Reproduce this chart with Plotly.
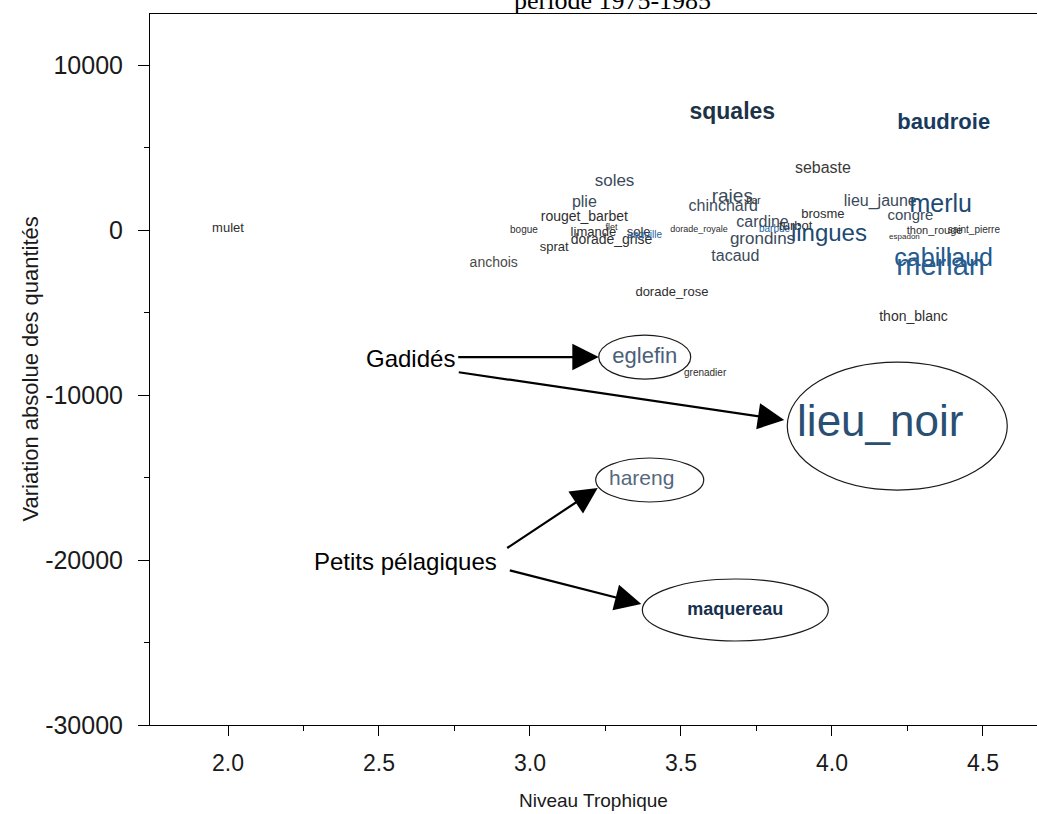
import plotly.graph_objects as go

# ---------------- data ----------------
species = ["mulet", "anchois", "bogue", "sprat", "rouget_barbet", "plie", "soles",
           "limande", "flet", "sole", "dorade_grise", "anguille", "dorade_royale",
           "raies", "bar", "chinchard", "cardine", "barbue", "turbot", "grondins",
           "tacaud", "brosme", "lingues", "sebaste", "squales", "baudroie",
           "lieu_jaune", "merlu", "congre", "thon_rouge", "espadon", "saint_pierre",
           "cabillaud", "merlan", "thon_blanc", "dorade_rose", "grenadier",
           "eglefin", "lieu_noir", "hareng", "maquereau"]
trophic_level = [2.00, 2.88, 2.98, 3.08, 3.18, 3.18, 3.28,
                 3.21, 3.27, 3.36, 3.27, 3.38, 3.56,
                 3.67, 3.74, 3.64, 3.77, 3.81, 3.88, 3.77,
                 3.68, 3.97, 3.99, 3.97, 3.67, 4.37,
                 4.16, 4.36, 4.26, 4.34, 4.24, 4.47,
                 4.37, 4.36, 4.27, 3.47, 3.58,
                 3.38, 4.16, 3.37, 3.68]
variation = [50, -2060, -50, -1090, 730, 1640, 2910,
             -180, 120, -180, -610, -360, 0,
             2000, 1700, 1390, 420, 60, 180, -610,
             -1640, 910, -300, 3700, 7090, 6480,
             1700, 1450, 850, -60, -420, -60,
             -1820, -2300, -5330, -3820, -8670,
             -7700, -11820, -15150, -23030]

x_ticks = [2.0, 2.5, 3.0, 3.5, 4.0, 4.5]
x_tick_labels = ["2.0", "2.5", "3.0", "3.5", "4.0", "4.5"]
y_ticks = [-30000, -20000, -10000, 0, 10000]
y_tick_labels = ["-30000", "-20000", "-10000", "0", "10000"]

# ---------------- styles (per label) ----------------
GRAY = "#2e2e2e"
SLATE = "#3b4a5a"
sizes = [13, 14, 10, 13, 14, 16, 17,
         13, 9, 13, 14, 10, 9,
         19, 10, 16, 16, 10, 13, 17,
         16, 13, 24, 16, 23, 22,
         16, 25, 15, 11, 8, 10,
         25, 29, 14, 13, 10,
         22, 44, 21, 18]
colors = [GRAY, "#4a4a4a", GRAY, GRAY, GRAY, SLATE, SLATE,
          GRAY, GRAY, GRAY, GRAY, "#1f5fa0", GRAY,
          SLATE, GRAY, SLATE, SLATE, "#1f5fa0", GRAY, SLATE,
          SLATE, GRAY, "#1d4a73", "#3a3a3a", "#1e3246", "#173a5e",
          SLATE, "#1d4a73", SLATE, GRAY, GRAY, GRAY,
          "#1f5a8e", "#2a5d8f", GRAY, GRAY, GRAY,
          "#4a6079", "#2a4f73", "#56687e", "#16304f"]
bold = {"squales", "baudroie", "maquereau"}

FONT = "Liberation Sans, Arial, sans-serif"
NARROW = "Liberation Sans Narrow, Arial Narrow, Liberation Sans, sans-serif"

W, H = 1037, 814
PL, PT, PW, PH = 150, 14, 887, 711          # plot area in window pixels
L, T = PL, PT
R = W - L - PW
B = H - T - PH
X0, X1 = 1.7417, 4.679
Y0, Y1 = -30000, 13091

fig = go.Figure()
for is_bold in (False, True):
    idx = [i for i, s in enumerate(species) if (s in bold) == is_bold]
    fig.add_trace(go.Scatter(
        x=[trophic_level[i] for i in idx],
        y=[variation[i] for i in idx],
        text=[species[i] for i in idx],
        mode="text",
        textposition="middle center",
        textfont=dict(family=FONT, size=[sizes[i] for i in idx],
                      color=[colors[i] for i in idx],
                      weight="bold" if is_bold else "normal"),
        hoverinfo="skip",
        showlegend=False,
        cliponaxis=False,
    ))

# ellipses around highlighted species (pixel radii, anchored at the data point)
ellipses = {"eglefin": (46, 22), "lieu_noir": (110, 64), "hareng": (54, 22), "maquereau": (93, 31)}
ell_offset = {"eglefin": (0, 0), "lieu_noir": (17, 1), "hareng": (8, 0), "maquereau": (0, 0)}
for name, (rx, ry) in ellipses.items():
    i = species.index(name)
    dx, dy = ell_offset[name]
    fig.add_shape(type="circle", xref="x", yref="y",
                  xsizemode="pixel", ysizemode="pixel",
                  xanchor=trophic_level[i], yanchor=variation[i],
                  x0=-rx + dx, x1=rx + dx, y0=-ry - dy, y1=ry - dy,
                  line=dict(color="#1a1a1a", width=1.2), fillcolor="rgba(0,0,0,0)")


def xd(px):
    return X0 + (px - PL) * (X1 - X0) / PW


def yd(py):
    return Y1 - (py - PT) * (Y1 - Y0) / PH


# group labels
fig.add_annotation(x=xd(410), y=yd(358), text="Gadidés", showarrow=False,
                   font=dict(family=FONT, size=24, color="black"))
fig.add_annotation(x=xd(405), y=yd(561), text="Petits pélagiques", showarrow=False,
                   font=dict(family=FONT, size=24, color="black"))

# arrows: (target, head shift x, head shift y (up +), tail dx, tail dy (down +))
arrows = [("eglefin", -46, 0, -142, 0),
          ("lieu_noir", -96, 5, -327, -48),
          ("hareng", -44, -8, -92, 61),
          ("maquereau", -94, 6, -133, -34)]
for name, sx, sy, ax, ay in arrows:
    i = species.index(name)
    fig.add_annotation(x=trophic_level[i], y=variation[i], xshift=sx, yshift=sy,
                       ax=ax, ay=ay, text="", showarrow=True,
                       arrowhead=2, arrowsize=2.4, arrowwidth=2.2,
                       arrowcolor="black", standoff=0)

# axis titles & main title
fig.add_annotation(x=0.5, y=0, xref="paper", yref="paper", yshift=-75,
                   text="Niveau Trophique", showarrow=False, yanchor="middle",
                   font=dict(family=NARROW, size=19, color="#1a1a1a"))
fig.add_annotation(x=0, y=0.5, xref="paper", yref="paper", xshift=-120,
                   text="Variation absolue des quantités", showarrow=False,
                   textangle=-90, xanchor="center",
                   font=dict(family=FONT, size=22, color="#1a1a1a"))
fig.add_annotation(x=(612 - PL) / PW, y=1, xref="paper", yref="paper", yshift=14,
                   text="période 1975-1985", showarrow=False, yanchor="middle",
                   font=dict(family="Liberation Serif, Times New Roman, serif", size=26,
                             color="black"))

fig.update_xaxes(range=[X0, X1], showgrid=False, zeroline=False,
                 showline=True, linecolor="black", linewidth=1, mirror=True,
                 ticks="outside", ticklen=10, tickwidth=1, tickcolor="black",
                 tickvals=x_ticks, ticktext=x_tick_labels,
                 tickfont=dict(family=NARROW, size=23, color="#1a1a1a"),
                 ticklabelstandoff=7,
                 minor=dict(ticks="outside", ticklen=5, tickwidth=1, tickcolor="black",
                            tickvals=[2.25, 2.75, 3.25, 3.75, 4.25]))
fig.update_yaxes(range=[Y0, Y1], showgrid=False, zeroline=False,
                 showline=True, linecolor="black", linewidth=1,
                 ticks="outside", ticklen=11, tickwidth=1, tickcolor="black",
                 tickvals=y_ticks, ticktext=y_tick_labels,
                 tickfont=dict(family=FONT, size=25, color="#1a1a1a"),
                 ticklabelstandoff=10,
                 minor=dict(ticks="outside", ticklen=5, tickwidth=1, tickcolor="black",
                            tickvals=[-25000, -15000, -5000, 5000]))

fig.update_layout(width=W, height=H, margin=dict(l=L, r=R, t=T, b=B),
                  paper_bgcolor="white", plot_bgcolor="white", showlegend=False)

# remove the default 8px body margin so the figure fills the window exactly
fig.write_html("out.html",
               config={"displayModeBar": False},
               post_script="document.body.style.margin='0';"
                           "document.body.style.overflow='hidden';")
